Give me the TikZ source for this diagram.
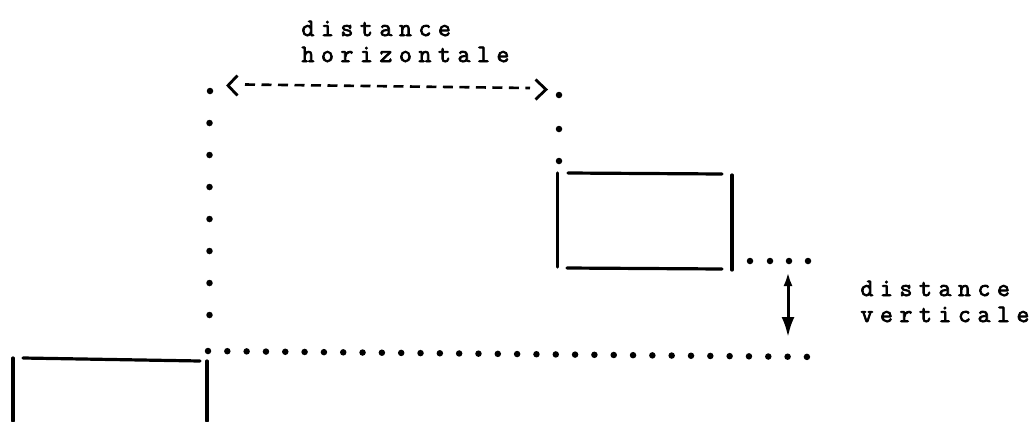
\documentclass[tikz,border=0pt]{standalone}
\usepackage{fontspec}
\newfontfamily\typewfont[FakeBold=3]{Latin Modern Mono}
\usetikzlibrary{arrows.meta}
\newcommand\spctext[1]{\spcloop#1\relax}
\def\spcloop#1{\ifx#1\relax\else\makebox[19.5pt][c]{#1}\expandafter\spcloop\fi}
\tikzset{
  dotmark/.style={circle,fill=black,inner sep=0pt,minimum size=6.5pt},
  boxline/.style={line width=3.2pt,line cap=round},
  typed/.style={font=\typewfont\fontsize{25}{25}\selectfont,inner sep=0pt,anchor=base west},
  dashline/.style={line width=2.6pt,dash pattern=on 10pt off 6.5pt},
  bracket/.style={line width=2.8pt,line join=miter}
}
\begin{document}
\begin{tikzpicture}[x=1pt,y=-1pt]
\useasboundingbox (0,0) rectangle (1031,421);
% labels
\node[typed] (dh1) at (298,36) {\spctext{distance}};
\node[typed] (dh2) at (298,62) {\spctext{horizontale}};
\node[typed] (dv1) at (857,296) {\spctext{distance}};
\node[typed] (dv2) at (857,322) {\spctext{verticale}};
% horizontal distance line
\node[dotmark] (tl) at (210,91) {};
\node[dotmark] (tr) at (559,95) {};
\coordinate (lb) at (228,85.5);
\coordinate (rb) at (546,89.5);
\draw[bracket] (237.5,75.5) -- (lb) -- (237.5,95.5);
\draw[bracket] (535.5,79.5) -- (rb) -- (535.5,99.5);
\coordinate (ds) at (245,84.5);
\coordinate (de) at (530,88);
\draw[dashline] (ds) -- (de);
% left dotted column
\foreach \i/\y in {1/123,2/155,3/187,4/219,5/251,6/283,7/315}
  \node[dotmark] (lc\i) at (209.5,\y) {};
% right dotted column
\node[dotmark] (rc1) at (559,129) {};
\node[dotmark] (rc2) at (559,161) {};
% bottom dotted row
\foreach \k in {0,...,31}
  \node[dotmark] (br\k) at ({208+19.32*\k},{351+0.19*\k}) {};
% dots right of box
\foreach \i/\x in {1/750,2/770,3/789,4/808}
  \node[dotmark] (rd\i) at (\x,261) {};
% right box
\coordinate (a1) at (557.5,173);
\coordinate (a2) at (557.5,267);
\coordinate (b1) at (568,173);
\coordinate (b2) at (722,174);
\coordinate (c1) at (567,268);
\coordinate (c2) at (722,269);
\coordinate (d1) at (732,175);
\coordinate (d2) at (732,270);
\draw[boxline] (a1) -- (a2);
\draw[boxline] (b1) -- (b2);
\draw[boxline] (c1) -- (c2);
\draw[boxline] (d1) -- (d2);
% vertical distance arrow
\coordinate (va) at (788,272);
\coordinate (vb) at (788,337);
\draw[line width=3pt,{Latex[length=14pt,width=9pt]}-{Latex[length=20pt,width=13pt]}] (va) -- (vb);
% left bottom box
\coordinate (e1) at (13,358);
\coordinate (e2) at (13,421);
\coordinate (f1) at (23,358);
\coordinate (f2) at (200,361);
\coordinate (g1) at (207,361);
\coordinate (g2) at (207,421);
\draw[boxline] (e1) -- (e2);
\draw[boxline] (f1) -- (f2);
\draw[boxline] (g1) -- (g2);
\end{tikzpicture}
\end{document}
